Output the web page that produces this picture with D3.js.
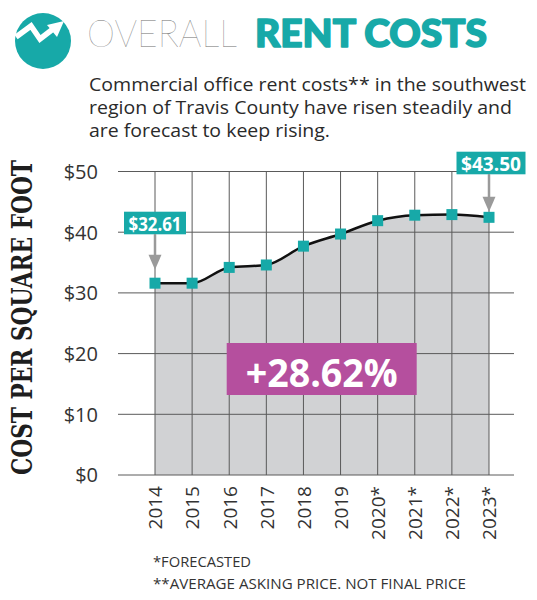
<!DOCTYPE html>
<html>
<head>
<meta charset="utf-8">
<script src="https://cdn.jsdelivr.net/npm/d3@7"></script>
<style>
  html, body { margin: 0; padding: 0; background: #fff; }
  svg { display: block; }
</style>
</head>
<body>
<svg id="chart" width="537" height="600"></svg>
<script>
// ---- data ----
const years = ["2014", "2015", "2016", "2017", "2018", "2019", "2020*", "2021*", "2022*", "2023*"];
const costs = [31.6, 31.6, 34.2, 34.6, 37.7, 39.7, 41.9, 42.8, 42.9, 42.45];
const yTickValues = [0, 10, 20, 30, 40, 50];
const yTickLabels = ["$0", "$10", "$20", "$30", "$40", "$50"];
const calloutYears = ["2014", "2023*"];
const calloutLabels = ["$32.61", "$43.50"];
const changeLabel = "+28.62%";
const titleLight = "OVERALL";
const titleBold = "RENT COSTS";
const subtitleLines = [
  "Commercial office rent costs** in the southwest",
  "region of Travis County have risen steadily and",
  "are forecast to keep rising."
];
const footnotes = ["*FORECASTED", "**AVERAGE ASKING PRICE. NOT FINAL PRICE"];
const yAxisTitle = "COST PER SQUARE FOOT";

// ---- styles ----
const TEAL = "#17a9a8";
const PINK = "#b54f9e";
const GRAY_FILL = "#d1d2d4";
const GRID = "#5a5a5a";
const ARROW = "#9a9a9a";
const TEXT = "#2a2a2a";

const svg = d3.select("#chart");

const gridLeft = 118, gridRight = 514;
const x = d3.scalePoint().domain(years).range([155, 489]);
const y = d3.scaleLinear().domain([0, 50]).range([475, 171.5]);

// ---- header icon ----
const icon = svg.append("g");
icon.append("circle").attr("cx", 43).attr("cy", 41).attr("r", 28).attr("fill", TEAL);
icon.append("polyline")
  .attr("points", "16,37 31,26 40,39 53,29")
  .attr("fill", "none").attr("stroke", "#fff").attr("stroke-width", 5.5)
  .attr("stroke-linejoin", "miter").attr("stroke-linecap", "butt");
icon.append("polygon")
  .attr("points", "64,21 47,25 57,37")
  .attr("fill", "#fff");

// ---- title ----
svg.append("text")
  .attr("x", 87).attr("y", 47)
  .attr("font-family", "Lato, 'Open Sans', sans-serif")
  .attr("font-weight", 100)
  .attr("font-size", 38)
  .attr("fill", "#6e6e6e")
  .attr("textLength", 150).attr("lengthAdjust", "spacingAndGlyphs")
  .text(titleLight);
svg.append("text")
  .attr("x", 255).attr("y", 47)
  .attr("font-family", "Lato, 'Open Sans', sans-serif")
  .attr("font-weight", 900)
  .attr("font-size", 38)
  .attr("fill", TEAL)
  .attr("stroke", TEAL).attr("stroke-width", 1.6).attr("stroke-linejoin", "round")
  .attr("textLength", 232).attr("lengthAdjust", "spacingAndGlyphs")
  .text(titleBold);

// ---- subtitle ----
const subWidths = [437, 423, 241];
svg.append("g").selectAll("text")
  .data(subtitleLines)
  .join("text")
  .attr("x", 89)
  .attr("y", (d, i) => 91 + i * 23)
  .attr("font-family", "'Open Sans', sans-serif")
  .attr("font-size", 18)
  .attr("fill", TEXT)
  .attr("textLength", (d, i) => subWidths[i])
  .attr("lengthAdjust", "spacingAndGlyphs")
  .text(d => d);

// ---- area ----
const area = d3.area()
  .x((d, i) => x(years[i]))
  .y0(y(0))
  .y1(d => y(d))
  .curve(d3.curveMonotoneX);
svg.append("path")
  .datum(costs)
  .attr("d", area)
  .attr("fill", GRAY_FILL);

// ---- grid ----
const grid = svg.append("g");
grid.selectAll("line.h")
  .data(yTickValues)
  .join("line")
  .attr("class", "h")
  .attr("x1", gridLeft).attr("x2", gridRight)
  .attr("y1", d => y(d)).attr("y2", d => y(d))
  .attr("stroke", GRID).attr("stroke-width", 1);
grid.selectAll("line.v")
  .data(years)
  .join("line")
  .attr("class", "v")
  .attr("x1", d => x(d)).attr("x2", d => x(d))
  .attr("y1", y(50)).attr("y2", y(0))
  .attr("stroke", GRID).attr("stroke-width", 1);

// ---- y axis ----
const yAxis = d3.axisLeft(y)
  .tickValues(yTickValues)
  .tickFormat((d, i) => yTickLabels[i])
  .tickSize(0)
  .tickPadding(0);
const yg = svg.append("g").attr("transform", "translate(98,0)").call(yAxis);
yg.select(".domain").remove();
yg.selectAll("text")
  .attr("font-family", "'Open Sans', sans-serif")
  .attr("font-size", 20)
  .attr("fill", "#333")
  .attr("dy", "0.34em");

// ---- x axis ----
const xAxis = d3.axisBottom(x).tickSize(0).tickPadding(0);
const xg = svg.append("g").attr("transform", `translate(0,${y(0)})`).call(xAxis);
xg.select(".domain").remove();
xg.selectAll("text")
  .attr("font-family", "'Open Sans', sans-serif")
  .attr("font-size", 19)
  .attr("fill", "#333")
  .attr("text-anchor", "end")
  .attr("transform", "rotate(-90)")
  .attr("x", -11)
  .attr("y", 0)
  .attr("dy", "0.36em");

// ---- y axis title ----
svg.append("text")
  .attr("transform", "translate(32,317.5) rotate(-90)")
  .attr("text-anchor", "middle")
  .attr("font-family", "'DejaVu Serif', 'Liberation Serif', serif")
  .attr("font-weight", "bold")
  .attr("font-size", 27)
  .attr("fill", "#1e1e1e")
  .attr("textLength", 315).attr("lengthAdjust", "spacingAndGlyphs")
  .text(yAxisTitle);

// ---- line ----
const line = d3.line()
  .x((d, i) => x(years[i]))
  .y(d => y(d))
  .curve(d3.curveMonotoneX);
svg.append("path")
  .datum(costs)
  .attr("d", line)
  .attr("fill", "none")
  .attr("stroke", "#111")
  .attr("stroke-width", 2.5);

// ---- markers ----
const ms = 11;
svg.append("g").selectAll("rect")
  .data(costs)
  .join("rect")
  .attr("x", (d, i) => x(years[i]) - ms / 2)
  .attr("y", d => y(d) - ms / 2)
  .attr("width", ms).attr("height", ms)
  .attr("fill", TEAL);

// ---- callouts ----
const boxGeom = [
  { w: 62, top: 211.7, h: 22.6, tipGap: 20, dx: 0 },
  { w: 69, top: 151.7, h: 22.6, tipGap: 12, dx: 2 }
];
calloutYears.forEach((yr, k) => {
  const i = years.indexOf(yr);
  const cx = x(yr);
  const g = boxGeom[k];
  const boxX = cx - g.w / 2 + g.dx;
  svg.append("rect")
    .attr("x", boxX).attr("y", g.top)
    .attr("width", g.w).attr("height", g.h)
    .attr("fill", TEAL);
  svg.append("text")
    .attr("x", boxX + g.w / 2).attr("y", g.top + g.h - 3.5)
    .attr("text-anchor", "middle")
    .attr("font-family", "'Open Sans', sans-serif")
    .attr("font-weight", "bold")
    .attr("font-size", 20)
    .attr("fill", "#fff")
    .attr("textLength", g.w - 9).attr("lengthAdjust", "spacingAndGlyphs")
    .text(calloutLabels[k]);
  const stemTop = g.top + g.h;
  const tip = y(costs[i]) - ms / 2 - g.tipGap + 12;
  const headTop = tip - 15;
  svg.append("line")
    .attr("x1", cx).attr("x2", cx)
    .attr("y1", stemTop).attr("y2", headTop + 1)
    .attr("stroke", ARROW).attr("stroke-width", 2.5);
  svg.append("polygon")
    .attr("points", `${cx - 6.5},${headTop} ${cx + 6.5},${headTop} ${cx},${tip}`)
    .attr("fill", ARROW);
});

// ---- change box ----
svg.append("rect")
  .attr("x", 226.7).attr("y", 343)
  .attr("width", 190).attr("height", 52)
  .attr("fill", PINK);
svg.append("text")
  .attr("x", 321.7).attr("y", 386.5)
  .attr("text-anchor", "middle")
  .attr("font-family", "'Open Sans', sans-serif")
  .attr("font-weight", "bold")
  .attr("font-size", 40)
  .attr("fill", "#fff")
  .attr("textLength", 152).attr("lengthAdjust", "spacingAndGlyphs")
  .text(changeLabel);

// ---- footnotes ----
const footWidths = [98, 313];
svg.append("g").selectAll("text")
  .data(footnotes)
  .join("text")
  .attr("x", 153)
  .attr("y", (d, i) => 567 + i * 21.5)
  .attr("font-family", "'Open Sans', sans-serif")
  .attr("font-size", 15)
  .attr("fill", "#333")
  .attr("textLength", (d, i) => footWidths[i])
  .attr("lengthAdjust", "spacingAndGlyphs")
  .text(d => d);
</script>
</body>
</html>
